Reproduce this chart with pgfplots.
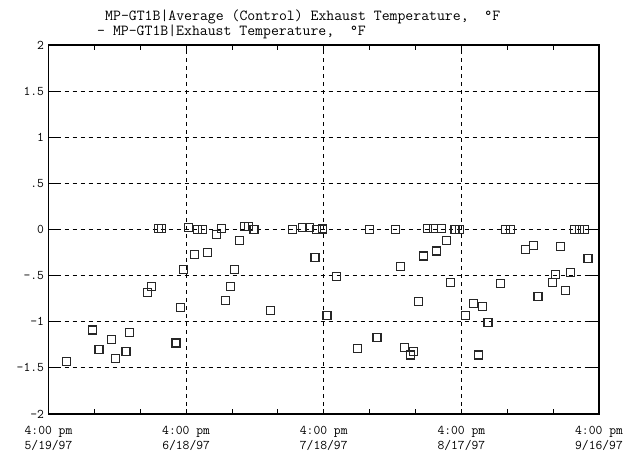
\documentclass[border=0pt]{standalone}
\usepackage{pgfplots}
\pgfplotsset{compat=1.18}
\usepackage{fontspec}
\pgfplotstableread{
d v
4.0 -1.435
9.6 -1.09
11.0 -1.30
13.8 -1.19
14.7 -1.40
16.9 -1.32
17.7 -1.115
21.6 -0.68
22.5 -0.62
23.9 0.01
24.6 0.01
27.8 -1.23
28.7 -0.85
29.4 -0.435
30.6 0.02
31.8 -0.27
32.4 0
33.6 0
34.6 -0.245
36.7 -0.05
37.7 0.015
38.5 -0.77
39.6 -0.615
40.6 -0.43
41.6 -0.12
42.7 0.03
43.5 0.035
44.8 0
48.4 -0.875
53.1 0
55.3 0.025
56.8 0.025
58.1 -0.30
58.5 0
59.7 0.005
60.7 -0.93
62.7 -0.505
67.4 -1.29
70.0 0
71.6 -1.17
75.7 0
76.8 -0.40
77.6 -1.28
78.9 -1.36
79.6 -1.32
80.7 -0.78
81.7 -0.287
82.6 0.015
84.0 0.015
84.6 -0.233
85.6 0.015
86.7 -0.118
87.7 -0.575
88.6 0
89.6 0
90.8 -0.93
92.6 -0.80
93.7 -1.36
94.7 -0.83
95.8 -1.01
98.6 -0.59
99.7 0
100.7 0
103.9 -0.22
105.7 -0.17
106.7 -0.73
109.8 -0.575
110.6 -0.49
111.7 -0.18
112.6 -0.665
113.8 -0.47
114.7 0
115.7 0
116.8 0
117.6 -0.31
}\datatable
\begin{document}
\begin{tikzpicture}[x=1bp,y=1bp]
\useasboundingbox (-48.5,-40) rectangle (587.5,414);
\begin{axis}[
  at={(0,0)}, anchor=south west,
  scale only axis, width=550.5bp, height=369bp,
  xmin=0, xmax=120, ymin=-2, ymax=2,
  xtick={0,30,60,90,120},
  xticklabels={{4:00 pm\\5/19/97},{4:00 pm\\6/18/97},{4:00 pm\\7/18/97},{4:00 pm\\8/17/97},{4:00 pm\\9/16/97}},
  minor xtick={10,20,40,50,70,80,100,110},
  ytick={-2,-1.5,-1,-0.5,0,0.5,1,1.5,2},
  yticklabels={-2,-1.5,-1,-.5,0,.5,1,1.5,2},
  xmajorgrids, ymajorgrids,
  grid style={black, line width=0.9bp, dash pattern=on 4bp off 4bp},
  axis line style={line width=1.6bp},
  tick style={black, line width=1bp},
  major tick length=5bp, minor tick length=5bp,
  ytick style={/pgfplots/major tick length=12bp},
  tick align=inside,
  x tick label style={font=\fontsize{13.3}{14.5}\selectfont\ttfamily, align=center, yshift=-9bp},
  y tick label style={font=\fontsize{13.3}{14.5}\selectfont\ttfamily, xshift=-1bp},
  clip=false,
]
\addplot[only marks, mark=square, mark size=4bp, mark options={line width=1.1bp, draw=black!85, fill=white}] table[x=d, y=v] {\datatable};
\end{axis}
\node[anchor=base west, font=\fontsize{15.4}{16}\selectfont\ttfamily, inner sep=0] at (56.5,393) {MP-GT1B|Average (Control) Exhaust Temperature,~~°F};
\node[anchor=base west, font=\fontsize{15.4}{16}\selectfont\ttfamily, inner sep=0] at (48.5,378) {- MP-GT1B|Exhaust Temperature,~~°F};
\end{tikzpicture}
\end{document}
